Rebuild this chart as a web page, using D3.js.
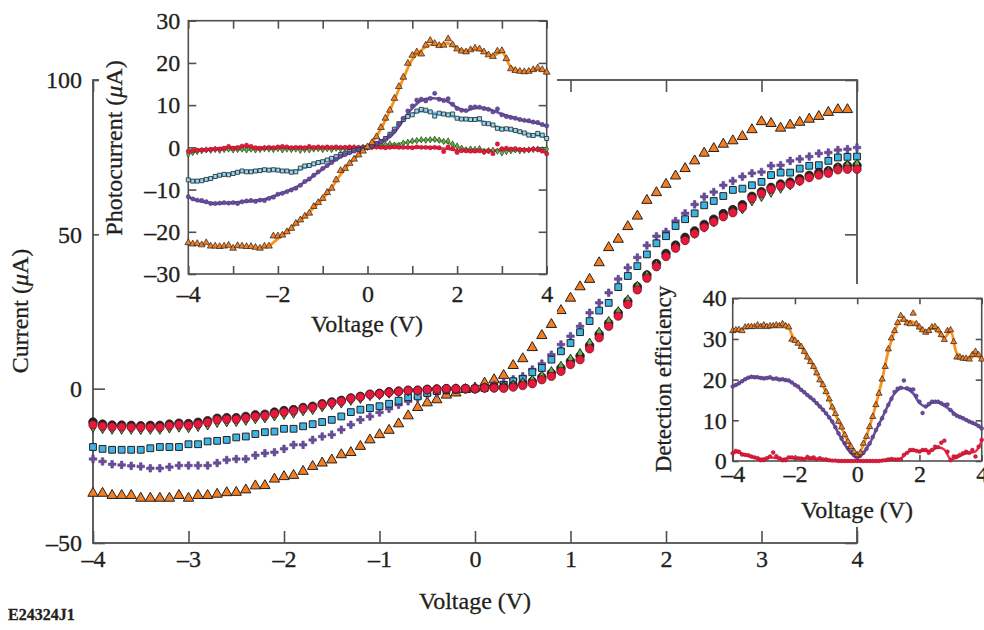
<!DOCTYPE html>
<html><head><meta charset="utf-8">
<script src="https://cdn.jsdelivr.net/npm/d3@7"></script>
<style>body{margin:0;background:#fff}svg{display:block}svg text{stroke:#231f20;stroke-width:0.3px}</style>
</head><body><svg id="c" width="984" height="630"></svg>
<script>
// ---------- DATA ----------
const voltage = [-4,-3.9,-3.8,-3.7,-3.6,-3.5,-3.4,-3.3,-3.2,-3.1,
 -3,-2.9,-2.8,-2.7,-2.6,-2.5,-2.4,-2.3,-2.2,-2.1,
 -2,-1.9,-1.8,-1.7,-1.6,-1.5,-1.4,-1.3,-1.2,-1.1,
 -1,-0.9,-0.8,-0.7,-0.6,-0.5,-0.4,-0.3,-0.2,-0.1,
 0,0.1,0.2,0.3,0.4,0.5,0.6,0.7,0.8,0.9,
 1,1.1,1.2,1.3,1.4,1.5,1.6,1.7,1.8,1.9,
 2,2.1,2.2,2.3,2.4,2.5,2.6,2.7,2.8,2.9,
 3,3.1,3.2,3.3,3.4,3.5,3.6,3.7,3.8,3.9,4];
const fitVoltage = [-4,-3.8,-3.6,-3.4,-3.2,-3,-2.8,-2.6,-2.4,-2.2,
 -2,-1.8,-1.6,-1.4,-1.2,-1,-0.8,-0.6,-0.4,-0.2,0,
 0.2,0.4,0.6,0.8,1,1.2,1.4,1.6,1.8,2,
 2.2,2.4,2.6,2.8,3,3.2,3.4,3.6,3.8,4];
const orangeFitVoltage = [-2.2,-2,-1.8,-1.6,-1.4,-1.2,-1,-0.8,-0.6,-0.4,-0.2,0,
 0.2,0.4,0.6,0.8,1,1.2,1.4,1.6,1.8,2,2.2,2.4,2.6,2.8,3,3.2,3.4,3.6,3.8,4];

// main I-V curves (µA)
const mainOrange = [-33.9,-33.9,-34.6,-34.6,-34.6,-35.5,-35.5,-35.5,-35.5,-34.6,
 -35.5,-34.6,-34.6,-34.2,-33.7,-33.6,-32.8,-31.5,-31.4,-29.3,
 -28.5,-28.1,-26.8,-25.2,-24.1,-23.1,-21.4,-20.7,-18.7,-16.6,
 -14.9,-13.5,-11.4,-8.8,-6.1,-4.6,-3.6,-2.1,-1.4,-0.3,
 0.2,1.8,2.9,4.3,7.5,9.7,13.3,17.2,20.8,25.3,
 29.3,33.0,35.4,40.8,45.7,48.4,52.5,55.9,61.0,63.5,
 66.2,68.9,71.3,73.8,76.3,77.8,79.2,80.3,81.7,83.9,
 86.5,85.9,84.4,85.4,86.3,87.3,88.2,89.5,90.4,90.4,
 null];
const mainPurple = [-22.8,-23.6,-24.5,-24.7,-25.0,-25.2,-25.8,-25.8,-25.4,-24.9,
 -24.9,-24.9,-24.9,-24.1,-23.1,-22.8,-22.8,-21.6,-20.9,-20.6,
 -19.5,-18.2,-18.2,-16.6,-15.5,-14.9,-13.3,-11.7,-10.1,-9.0,
 -7.7,-6.5,-5.2,-4.1,-3.0,-1.9,-1.4,-0.6,-0.3,-0.2,
 0,0.5,1.2,2.0,3.0,4.0,6.2,8.1,11.0,14.3,
 17.0,20.2,24.6,27.8,31.1,35.5,39.2,42.5,46.4,49.4,
 50.8,54.3,56.8,59.7,62.2,63.7,65.9,67.3,68.7,69.8,
 70.2,72.2,72.4,73.8,74.4,75.2,76.2,76.5,77.3,77.6,
 78.1];
const mainBlue = [-18.9,-19.5,-19.8,-19.8,-19.8,-19.8,-19.3,-18.9,-18.9,-18.9,
 -18.0,-18.0,-17.1,-16.9,-16.6,-15.8,-15.5,-14.7,-14.1,-13.9,
 -13.0,-13.0,-12.2,-11.5,-10.8,-10.1,-9.0,-7.6,-6.8,-6.3,
 -5.7,-4.9,-3.9,-2.8,-2.5,-1.4,-0.8,-0.5,-0.3,0,
 0,0.2,0.5,1.2,2.4,3.1,5.3,6.7,9.4,12.1,
 14.8,18.3,21.9,25.3,27.8,32.9,36.5,39.7,43.5,47.1,
 49.4,52.7,54.9,56.8,59.4,60.8,62.4,64.4,64.8,65.9,
 67.0,69.2,70.0,70.0,71.3,72.2,72.4,73.8,74.9,75.1,
 75.2];
const mainBlack = [-10.8,-11.5,-11.8,-11.8,-11.9,-12.0,-11.9,-11.9,-11.5,-11.2,
 -11.3,-10.9,-10.4,-9.6,-9.4,-9.4,-9.0,-8.5,-8.3,-7.6,
 -7.1,-6.8,-6.1,-5.7,-4.9,-4.3,-3.8,-3.0,-2.5,-1.8,
 -1.5,-1.0,-0.8,-0.5,-0.5,-0.2,-0.1,0,0,0,
 0,0.3,0.4,0.5,1.0,1.6,2.3,3.7,5.0,6.6,
 8.9,10.6,14.0,17.6,21.2,24.5,28.3,33.0,36.8,40.5,
 43.8,46.5,49.0,51.1,53.2,54.9,56.7,58.0,59.6,62.3,
 63.8,65.2,66.3,66.9,68.0,69.1,70.0,70.6,71.7,72.2,
 72.3];
const mainGreen = [-12.6,-13.0,-13.2,-13.2,-13.2,-13.3,-13.2,-13.2,-12.8,-12.5,
 -12.7,-12.3,-11.8,-11.0,-10.8,-10.7,-10.3,-9.8,-9.5,-8.9,
 -8.4,-8.0,-7.2,-6.8,-5.9,-5.2,-4.7,-3.8,-3.2,-2.3,
 -2.0,-1.5,-1.1,-0.8,-0.7,-0.4,-0.3,-0.1,0,0,
 0,0.3,0.4,0.6,1.2,2.0,2.8,4.2,5.6,7.3,
 9.6,11.4,14.8,18.3,21.8,25.0,28.8,33.2,36.8,40.2,
 43.2,46.0,48.2,50.3,52.3,54.0,56.0,57.4,58.2,60.8,
 62.2,63.6,64.9,66.0,67.3,68.6,69.6,70.5,71.6,72.4,
 72.8];
const mainRed = [-11.7,-12.2,-12.4,-12.4,-12.5,-12.5,-12.5,-12.5,-12.0,-11.7,
 -11.9,-11.5,-10.9,-10.1,-9.9,-9.9,-9.5,-9.0,-8.8,-8.1,
 -7.6,-7.2,-6.5,-6.1,-5.2,-4.6,-4.1,-3.2,-2.7,-1.9,
 -1.7,-1.2,-0.9,-0.6,-0.6,-0.3,-0.2,0,0,0,
 0,0.2,0.2,0.1,0.5,1.0,1.6,2.9,4.0,5.6,
 7.8,9.4,12.9,16.5,20.2,23.5,27.3,32.0,35.8,39.5,
 42.8,45.5,48.0,50.2,52.3,54.0,55.7,57.0,58.7,61.6,
 63.2,64.6,65.7,66.2,67.3,68.4,69.2,69.8,70.9,71.1,
 71.1];

// inset 1: photocurrent (µA)
const pcOrange = [-22.6,-22.9,-22.8,-23.1,-22.6,-23.4,-23.4,-23.5,-23.4,-23.2,
 -23.9,-23.3,-23.4,-23.5,-23.5,-23.7,-23.9,-23.4,-23.4,-21.0,
 -21.0,-20.8,-20.0,-19.2,-18.0,-17.2,-16.3,-15.6,-14.0,-13.1,
 -12.1,-10.7,-9.7,-7.7,-5.5,-5.0,-3.8,-2.8,-1.8,-0.9,
 0.1,1.1,2.5,4.7,6.9,8.8,11.6,14.4,16.6,19.9,
 21.8,22.6,22.1,24.2,25.3,24.6,24.1,24.2,25.7,24.3,
 23.3,22.8,22.6,23.1,23.5,23.3,22.6,21.9,21.5,22.8,
 22.9,21.0,18.6,18.2,18.0,17.9,18.0,18.4,18.8,18.4,
 17.8];
const pcPurple = [-11.7,-12.2,-12.5,-12.6,-12.9,-13.3,-13.3,-13.2,-13.1,-13.2,
 -13.1,-13.3,-12.9,-12.7,-12.6,-12.8,-12.5,-12.6,-12.1,-11.8,
 -11.1,-10.9,-10.5,-10.1,-9.7,-9.0,-8.1,-7.5,-6.6,-5.8,
 -5.0,-4.3,-3.6,-2.8,-2.1,-1.7,-1.3,-0.9,-0.6,-0.3,
 0,0.4,0.9,1.3,1.9,2.8,3.9,5.5,6.9,8.6,
 9.8,11.2,11.4,11.0,11.6,12.8,11.4,11.1,11.5,10.2,
 9.2,8.8,8.7,9.5,9.6,9.5,9.2,9.0,8.4,9.1,
 7.7,7.3,7.1,6.9,6.6,6.4,6.3,6.0,5.9,5.4,
 5.1];
const pcBlue = [-7.7,-8.0,-8.0,-7.9,-7.6,-7.4,-6.9,-6.6,-6.4,-6.5,
 -6.2,-5.9,-5.6,-5.8,-5.8,-5.6,-5.5,-5.3,-5.4,-5.3,
 -5.4,-5.6,-5.6,-5.9,-5.8,-4.9,-4.4,-4.3,-3.9,-3.6,
 -3.4,-3.0,-2.6,-2.2,-1.7,-1.4,-1.0,-0.7,-0.5,-0.2,
 0,0.5,0.9,1.4,2.1,3.1,4.3,5.6,6.6,7.3,
 7.7,8.6,9.0,8.8,8.4,7.4,8.1,7.9,7.7,7.9,
 6.9,6.7,6.7,6.6,6.6,6.8,5.7,5.6,5.3,4.5,
 4.3,4.4,4.3,4.0,3.7,3.4,2.9,2.8,3.3,2.9,
 2.1];
const pcGreen = [-1.6,-1.2,-1.0,-0.8,-0.6,-0.7,-0.5,-0.7,-0.5,-0.4,
 -0.6,-0.5,-0.4,-0.6,-0.4,-0.6,-0.5,-0.3,-0.4,-0.5,
 -0.3,-0.6,-0.4,-0.5,-0.4,-0.7,-0.5,-0.6,-0.4,-0.3,
 -0.5,-0.3,-0.5,-0.2,-0.4,-0.2,-0.3,-0.1,-0.2,0,
 0,0.2,0.3,0.4,0.6,0.8,0.5,0.4,1.0,1.2,
 1.5,1.6,1.8,1.7,1.8,1.9,1.7,1.4,1.5,0.8,
 0.3,-0.2,-0.6,-0.4,-0.5,-0.3,-1.0,-0.8,-0.7,-0.9,
 -1.3,-1.0,-0.8,-0.6,-0.8,-0.7,-0.6,-0.5,-0.4,-0.6,
 -0.4];
const pcRed = [-0.9,-0.8,-0.7,-0.6,-0.6,-0.5,-0.4,-0.4,-0.2,0.2,
 -0.2,-0.1,0.3,0.5,0.2,-0.1,-0.2,-0.1,0,-0.1,
 0.1,0.2,0.1,-0.1,0,0,-0.1,0.2,0,0.1,
 0,0.1,0,0.1,0,0,0.1,0,0,0,
 0,0,0.1,0,-0.1,0,0.1,0,0,0,
 -0.1,0.1,0,0,-0.1,0,-0.1,-1.0,0.1,-0.3,
 -1.2,-0.8,-0.8,-0.9,-0.9,-0.8,-1.1,-0.9,-1.5,0.8,
 -0.3,-0.2,-0.4,-0.3,-0.5,-0.6,-0.6,-0.4,-0.5,-0.9,
 -1.5];
const pcOrangeFit = [-23.5,-21.6,-20.1,-18.2,-16.4,-14.3,-12.2,-9.6,-6.4,-3.9,
 -1.8,0.2,2.6,6.4,11.2,16.3,20.8,23.0,24.3,24.2,
 24.6,23.4,22.8,23.3,22.6,21.6,22.6,19.0,18.0,18.0,18.5,17.8];
const pcPurpleFit = [-11.8,-12.6,-13.0,-13.3,-13.2,-13.1,-12.9,-12.7,-12.5,-12.0,
 -11.2,-10.4,-9.5,-8.2,-6.7,-5.1,-3.6,-2.3,-1.3,-0.6,0,
 0.7,1.7,3.5,6.5,9.3,11.1,11.6,11.5,10.8,9.4,
 8.7,9.3,9.3,8.7,7.9,7.2,6.6,6.1,5.7,5.0];
const pcBlueFit = [-7.8,-7.9,-7.6,-7.0,-6.5,-6.1,-5.7,-5.6,-5.5,-5.4,
 -5.4,-5.5,-5.5,-4.8,-4.0,-3.3,-2.6,-1.7,-1.0,-0.5,0,
 0.8,2.0,4.3,6.4,7.9,8.5,8.3,8.0,7.6,7.0,
 6.6,6.5,6.0,5.2,4.5,4.1,3.6,3.1,2.8,2.3];
const pcGreenFit = [-1.5,-0.9,-0.6,-0.5,-0.5,-0.5,-0.5,-0.5,-0.4,-0.4,
 -0.4,-0.4,-0.4,-0.4,-0.4,-0.4,-0.3,-0.3,-0.2,-0.1,0,
 0.3,0.6,0.7,1.0,1.4,1.7,1.8,1.6,1.1,0.1,
 -0.4,-0.5,-0.6,-0.7,-0.8,-0.8,-0.7,-0.6,-0.5,-0.5];
const pcRedFit = [-0.9,-0.6,-0.5,-0.3,-0.1,0.0,0.2,0.1,-0.1,0.0,
 0,0,0,0,0,0,0,0,0,0,0,
 0,0,0,0,0,0,0,-0.2,-0.4,-0.7,
 -0.9,-0.9,-0.9,-0.8,-0.5,-0.4,-0.5,-0.5,-0.6,-1.3];

// inset 2: detection efficiency
const deOrange = [32.0,32.2,32.3,32.0,32.9,33.0,33.0,33.0,33.4,33.0,
 33.4,33.0,33.2,33.2,33.4,33.2,33.7,33.2,32.9,29.9,
 29.6,28.9,28.1,26.9,25.5,24.4,23.2,21.6,19.9,18.7,
 17.0,15.2,13.2,11.6,9.7,8.3,6.4,4.8,3.5,2.3,
 1.5,2.0,4.3,6.0,8.4,10.9,13.8,16.6,20.1,23.2,
 27.5,30.2,32.0,34.0,35.7,34.8,33.9,33.7,36.3,33.7,
 32.9,32.2,31.6,32.0,32.9,33.0,32.2,31.0,29.8,32.0,
 32.2,29.3,25.5,25.5,25.2,25.2,25.0,26.1,26.9,26.1,
 25.0];
const dePurple = [18.3,18.7,19.1,19.6,20.1,20.5,20.7,20.6,20.6,20.4,
 20.3,20.4,20.6,20.2,20.3,20.0,20.1,19.9,19.8,19.3,
 18.7,18.3,17.5,16.9,16.2,15.6,15.0,14.2,13.4,12.6,
 11.7,10.7,9.7,8.3,6.8,5.5,4.3,3.2,2.3,1.5,
 0.9,1.3,2.0,3.0,4.3,5.9,7.6,9.0,10.5,12.2,
 13.8,15.3,17.0,17.8,18.0,19.8,17.9,17.6,17.6,16.0,
 14.6,11.8,13.4,14.0,14.6,14.6,14.6,14.2,13.8,13.9,
 12.5,11.6,11.1,10.8,10.5,10.1,9.7,9.4,9.1,8.6,
 8.0];
const deRed = [1.9,2.5,2.3,1.6,1.5,1.4,1.1,0.9,0.7,0.2,
 0.2,0.7,1.1,2.1,1.2,0.7,0.2,0.2,0.9,0.9,
 0.7,0.7,0.6,0.4,1.0,0.7,0.9,0.4,0.7,0.4,
 0.4,0.2,0.1,0.1,0,0,0,0,0,0,
 0,0,0,0,0,0,0,0,0.1,0.2,
 0.4,0.5,0.4,0.4,0.4,1.5,2.0,2.7,2.7,2.5,
 2.3,2.7,2.7,2.0,2.7,3.5,3.4,4.5,5.0,2.3,
 0.2,1.1,1.1,1.5,1.9,2.3,2.0,2.7,1.1,3.5,
 5.2];
const deOrangeFit = [32.9,29.7,28.1,25.5,23.1,20.0,16.9,13.3,9.7,6.4,
 3.4,1.2,4.0,8.5,13.8,20.0,27.0,31.8,34.6,34.3,
 34.2,32.5,31.7,32.6,31.8,30.3,31.9,26.5,25.3,25.1,26.0,25.0];
const dePurpleFit = [18.3,19.1,20.1,20.6,20.6,20.4,20.4,20.2,20.0,19.7,
 18.8,17.5,16.2,14.9,13.4,11.7,9.6,6.8,4.1,1.9,0.8,
 2.0,4.3,7.5,10.6,13.8,16.6,17.9,17.7,16.6,14.3,
 13.4,14.3,14.4,13.6,12.5,11.3,10.5,9.7,9.0,8.0];
const deRedFit = [2.0,2.1,1.5,1.0,0.6,0.6,0.9,0.7,0.5,0.7,
 0.7,0.7,0.6,0.5,0.5,0.3,0.1,0.0,0.0,0.0,0.0,
 0.0,0.0,0.0,0.1,0.3,0.4,0.6,2.1,2.6,2.5,
 2.5,2.6,3.3,2.8,0.5,0.8,1.6,2.0,2.3,5.0];

// tick values
const mainXTicks = [-4,-3,-2,-1,0,1,2,3,4];
const mainYTicks = [-50,0,50,100];
const in1XTicks = [-4,-3,-2,-1,0,1,2,3,4];
const in1XLabels = [-4,-2,0,2,4];
const in1YTicks = [-30,-20,-10,0,10,20,30];
const in2XTicks = [-4,-2,0,2,4];
const in2YTicks = [0,10,20,30,40];

// ---------- DRAW ----------
const FONT = "'Liberation Serif','Times New Roman',serif";
const ink = "#231f20", axisCol = "#505052";
const C = {orange:"#f47e20", purple:"#6a4c9c", blue:"#3cb5e5", green:"#5cb847", red:"#e6193c", black:"#231f20",
  lOrange:"#f7941d", lPurple:"#6b4fa0", lBlue:"#62c6ee", lGreen:"#74c045", lRed:"#ee2a45"};
const fmt = d => d < 0 ? "\u2013" + Math.abs(d) : String(d);
const svg = d3.select("#c");

function styleAxis(sel, fs) {
  sel.select(".domain").remove();
  sel.selectAll("line").attr("stroke", axisCol).attr("stroke-width", 1.6);
  sel.selectAll("text").attr("font-family", FONT).attr("font-size", fs).attr("fill", ink);
}
function pts(xs, ys) { return xs.map((v,i)=>({v, y: ys[i]})).filter(d => d.y !== null && d.y !== undefined); }
function drawMarkers(g, xs, ys, sx, sy, type, size, fill, stroke, sw) {
  const sym = d3.symbol().type(type).size(size);
  g.append("g").selectAll("path").data(pts(xs, ys)).join("path")
    .attr("d", sym).attr("transform", d => `translate(${sx(d.v)},${sy(d.y)})`)
    .attr("fill", fill).attr("stroke", stroke).attr("stroke-width", sw);
}
function drawFit(g, xs, ys, sx, sy, color, w) {
  const line = d3.line().x(d=>sx(d.v)).y(d=>sy(d.y)).curve(d3.curveCatmullRom.alpha(0.5));
  g.append("path").datum(pts(xs, ys)).attr("d", line).attr("fill","none")
    .attr("stroke", color).attr("stroke-width", w).attr("stroke-linejoin","round").attr("stroke-linecap","round");
}
function label(g, txt, x, y, fs, rot, italicPart) {
  const t = g.append("text").attr("font-family", FONT).attr("font-size", fs).attr("fill", ink)
    .attr("text-anchor","middle").attr("transform", `translate(${x},${y})` + (rot ? " rotate(-90)" : ""));
  if (italicPart) {
    t.append("tspan").text(txt[0]);
    t.append("tspan").attr("font-style","italic").text(txt[1]);
    t.append("tspan").text(txt[2]);
  } else t.text(txt);
}

// ===== Main chart =====
const mx = d3.scaleLinear([-4,4],[93,857]);
const my = d3.scaleLinear([-50,100],[543,80]);
const gm = svg.append("g");
gm.append("rect").attr("x", mx(-4)).attr("y", my(100)).attr("width", mx(4)-mx(-4)).attr("height", my(-50)-my(100))
  .attr("fill","none").attr("stroke", axisCol).attr("stroke-width", 1.8);
gm.append("g").attr("transform",`translate(0,${my(-50)})`)
  .call(d3.axisBottom(mx).tickValues(mainXTicks).tickSizeInner(-12).tickSizeOuter(0).tickPadding(7).tickFormat(fmt))
  .call(s=>styleAxis(s,24));
gm.append("g").attr("transform",`translate(0,${my(100)})`)
  .call(d3.axisTop(mx).tickValues(mainXTicks).tickSizeInner(-12).tickSizeOuter(0).tickFormat(""))
  .call(s=>styleAxis(s,24));
gm.append("g").attr("transform",`translate(${mx(-4)},0)`)
  .call(d3.axisLeft(my).tickValues(mainYTicks).tickSizeInner(-12).tickSizeOuter(0).tickPadding(11).tickFormat(fmt))
  .call(s=>styleAxis(s,24));
gm.append("g").attr("transform",`translate(${mx(4)},0)`)
  .call(d3.axisRight(my).tickValues(mainYTicks).tickSizeInner(-12).tickSizeOuter(0).tickFormat(""))
  .call(s=>styleAxis(s,24));

drawMarkers(gm, voltage, mainOrange, mx, my, d3.symbolTriangle, 46, C.orange, ink, 1);
drawMarkers(gm, voltage, mainPurple, mx, my, d3.symbolCross, 32, C.purple, "#4a3578", 0.5);
drawMarkers(gm, voltage, mainBlue, mx, my, d3.symbolSquare, 46, C.blue, ink, 1);
drawMarkers(gm, voltage, mainBlack, mx, my, d3.symbolCircle, 58, C.black, ink, 0.8);
drawMarkers(gm, voltage, mainGreen, mx, my, d3.symbolDiamond, 28, C.green, ink, 0.9);
drawMarkers(gm, voltage, mainRed, mx, my, d3.symbolCircle, 56, C.red, "#5a1420", 0.7);

label(svg, ["Current (", "\u03BC", "A)"], 28, 311, 24, true, true);
label(svg, "Voltage (V)", 475, 609, 24, false);
svg.append("text").attr("x", 8).attr("y", 620).attr("font-family", FONT).attr("font-size", 16)
  .attr("font-weight","bold").attr("fill", ink).text("E24324J1");

// ===== Inset 1: photocurrent =====
const ax1 = d3.scaleLinear([-4,4],[188.3,546.7]);
const ay1 = d3.scaleLinear([-30,30],[274,20.7]);
const g1 = svg.append("g");
g1.append("rect").attr("x",99).attr("y",0).attr("width",458).attr("height",316).attr("fill","#fff");
g1.append("g").attr("transform",`translate(0,${ay1(-30)})`)
  .call(d3.axisBottom(ax1).tickValues(in1XTicks).tickSizeInner(-8).tickSizeOuter(0).tickPadding(11)
    .tickFormat(d => in1XLabels.includes(d) ? fmt(d) : ""))
  .call(s=>styleAxis(s,24));
g1.append("g").attr("transform",`translate(0,${ay1(30)})`)
  .call(d3.axisTop(ax1).tickValues(in1XTicks).tickSizeInner(-8).tickSizeOuter(0).tickFormat(""))
  .call(s=>styleAxis(s,24));
g1.append("g").attr("transform",`translate(${ax1(-4)},0)`)
  .call(d3.axisLeft(ay1).tickValues(in1YTicks).tickSizeInner(-8).tickSizeOuter(0).tickPadding(8).tickFormat(fmt))
  .call(s=>styleAxis(s,24));
g1.append("g").attr("transform",`translate(${ax1(4)},0)`)
  .call(d3.axisRight(ay1).tickValues(in1YTicks).tickSizeInner(-8).tickSizeOuter(0).tickFormat(""))
  .call(s=>styleAxis(s,24));
g1.append("rect").attr("x", ax1(-4)).attr("y", ay1(30)).attr("width", ax1(4)-ax1(-4)).attr("height", ay1(-30)-ay1(30))
  .attr("fill","none").attr("stroke", axisCol).attr("stroke-width", 1.6);

drawFit(g1, fitVoltage, pcGreenFit, ax1, ay1, C.lGreen, 2.6);
drawFit(g1, fitVoltage, pcRedFit, ax1, ay1, C.lRed, 2.6);
drawFit(g1, fitVoltage, pcBlueFit, ax1, ay1, C.lBlue, 2.8);
drawFit(g1, fitVoltage, pcPurpleFit, ax1, ay1, C.lPurple, 2.6);
drawFit(g1, orangeFitVoltage, pcOrangeFit, ax1, ay1, C.lOrange, 2.8);
drawMarkers(g1, voltage, pcGreen, ax1, ay1, d3.symbolDiamond, 12, C.green, ink, 0.6);
drawMarkers(g1, voltage, pcRed, ax1, ay1, d3.symbolCircle, 15, C.red, "#8a1020", 0.4);
drawMarkers(g1, voltage, pcBlue, ax1, ay1, d3.symbolSquare, 16, "#8fd9f6", ink, 0.8);
drawMarkers(g1, voltage, pcPurple, ax1, ay1, d3.symbolCircle, 15, C.purple, "#3f2c66", 0.4);
drawMarkers(g1, voltage, pcOrange, ax1, ay1, d3.symbolTriangle, 20, C.orange, ink, 0.7);

label(g1, ["Photocurrent (", "\u03BC", "A)"], 122, 148, 24, true, true);
label(g1, "Voltage (V)", 367, 332, 24, false);

// ===== Inset 2: detection efficiency =====
const ax2 = d3.scaleLinear([-4,4],[732.7,981.7]);
const ay2 = d3.scaleLinear([0,40],[461,298.3]);
const g2 = svg.append("g");
g2.append("rect").attr("x",658).attr("y",284).attr("width",326).attr("height",243).attr("fill","#fff");
g2.append("g").attr("transform",`translate(0,${ay2(0)})`)
  .call(d3.axisBottom(ax2).tickValues(in2XTicks).tickSizeInner(-6).tickSizeOuter(0).tickPadding(4).tickFormat(fmt))
  .call(s=>styleAxis(s,24));
g2.append("g").attr("transform",`translate(0,${ay2(40)})`)
  .call(d3.axisTop(ax2).tickValues(in2XTicks).tickSizeInner(-6).tickSizeOuter(0).tickFormat(""))
  .call(s=>styleAxis(s,24));
g2.append("g").attr("transform",`translate(${ax2(-4)},0)`)
  .call(d3.axisLeft(ay2).tickValues(in2YTicks).tickSizeInner(-6).tickSizeOuter(0).tickPadding(6).tickFormat(fmt))
  .call(s=>styleAxis(s,24));
g2.append("g").attr("transform",`translate(${ax2(4)},0)`)
  .call(d3.axisRight(ay2).tickValues(in2YTicks).tickSizeInner(-6).tickSizeOuter(0).tickFormat(""))
  .call(s=>styleAxis(s,24));
g2.append("rect").attr("x", ax2(-4)).attr("y", ay2(40)).attr("width", ax2(4)-ax2(-4)).attr("height", ay2(0)-ay2(40))
  .attr("fill","none").attr("stroke", axisCol).attr("stroke-width", 1.6);

drawFit(g2, fitVoltage, deRedFit, ax2, ay2, C.lRed, 2.4);
drawFit(g2, fitVoltage, dePurpleFit, ax2, ay2, C.lPurple, 2.6);
drawFit(g2, orangeFitVoltage, deOrangeFit, ax2, ay2, C.lOrange, 2.8);
drawMarkers(g2, voltage, deRed, ax2, ay2, d3.symbolCircle, 12, C.red, "#8a1020", 0.4);
drawMarkers(g2, voltage, dePurple, ax2, ay2, d3.symbolCircle, 12, C.purple, "#3f2c66", 0.4);
drawMarkers(g2, voltage, deOrange, ax2, ay2, d3.symbolTriangle, 17, C.orange, ink, 0.7);

label(g2, "Detection efficiency", 671, 379, 23, true);
label(g2, "Voltage (V)", 857, 518, 24, false);
</script>
</body></html>
